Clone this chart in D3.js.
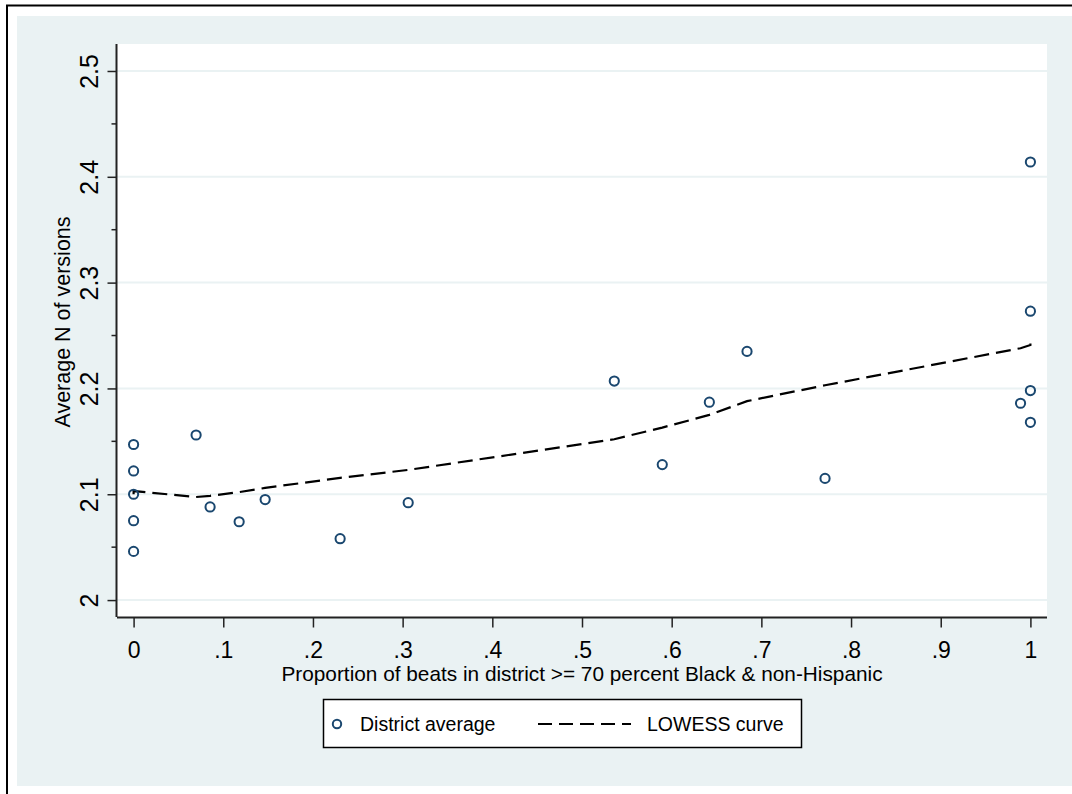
<!DOCTYPE html>
<html>
<head>
<meta charset="utf-8">
<script src="https://cdn.jsdelivr.net/npm/d3@7"></script>
<style>
  body { margin: 0; background: #fff; }
  svg { display: block; font-family: "Liberation Sans", Arial, sans-serif; }
</style>
</head>
<body>
<svg id="chart" width="1072" height="794"></svg>
<script>
// district averages (x = proportion of beats, y = average N of versions)
const pointX = [0, 0, 0, 0, 0, 0.0697, 0.0853, 0.1177, 0.1467, 0.2303, 0.3062,
  0.536, 0.5895, 0.642, 0.684, 0.771, 0.989, 1, 1, 1, 1];
const pointY = [2.147, 2.122, 2.100, 2.075, 2.046, 2.156, 2.088, 2.074, 2.095, 2.058, 2.092,
  2.207, 2.128, 2.187, 2.235, 2.115, 2.186, 2.414, 2.273, 2.198, 2.168];

// lowess curve, sorted by x
const lowessX = [0, 0, 0.0697, 0.0853, 0.1177, 0.1467, 0.2303, 0.3062,
  0.536, 0.5895, 0.642, 0.684, 0.771, 0.989, 1, 1];
const lowessY = [2.100, 2.103, 2.0974, 2.0985, 2.102, 2.106, 2.1155, 2.123,
  2.152, 2.163, 2.175, 2.188, 2.203, 2.238, 2.241, 2.247];

const xTicks = [0, .1, .2, .3, .4, .5, .6, .7, .8, .9, 1];
const yTicks = [2, 2.1, 2.2, 2.3, 2.4, 2.5];
const yMinorTicks = [2.05, 2.15, 2.25, 2.35, 2.45];

const xTitle = "Proportion of beats in district >= 70 percent Black & non-Hispanic";
const yTitle = "Average N of versions";
const legendLabels = ["District average", "LOWESS curve"];

const svg = d3.select("#chart");
const navy = "#1a476f";
const bg = "#eaf2f3";

const plot = { left: 117, right: 1047, top: 44, bottom: 617 };

// outer region
svg.append("rect").attr("x", 17).attr("y", 16).attr("width", 1072).attr("height", 770).attr("fill", bg);
svg.append("rect").attr("x", 7).attr("y", 5.5).attr("width", 1200).attr("height", 1000)
  .attr("fill", "none").attr("stroke", "#000").attr("stroke-width", 2);

// plot region
svg.append("rect").attr("x", plot.left).attr("y", plot.top)
  .attr("width", plot.right - plot.left).attr("height", plot.bottom - plot.top).attr("fill", "#fff");

const x = d3.scaleLinear().domain([-0.0185, 1.0185]).range([plot.left, plot.right]);
const y = d3.scaleLinear().domain([1.984, 2.5255]).range([plot.bottom, plot.top]);

// gridlines
svg.append("g").selectAll("line").data(yTicks).join("line")
  .attr("x1", plot.left).attr("x2", plot.right)
  .attr("y1", d => y(d)).attr("y2", d => y(d))
  .attr("stroke", bg).attr("stroke-width", 2);

// y axis
const yAxis = svg.append("g").attr("transform", `translate(${plot.left - 0.5},0)`)
  .call(d3.axisLeft(y).tickValues(yTicks).tickFormat(d3.format("")).tickSize(9));
yAxis.select(".domain").attr("d", `M0,${plot.top}V${plot.bottom}`).attr("stroke", "#222").attr("stroke-width", 2);
yAxis.selectAll(".tick line").attr("stroke", "#222").attr("stroke-width", 1.5);
yAxis.selectAll(".tick text")
  .attr("font-size", 25).attr("fill", "#000")
  .attr("x", null).attr("y", null).attr("dy", 0)
  .attr("transform", "translate(-19,0) rotate(-90)").attr("text-anchor", "middle");
yAxis.selectAll(".minor").data(yMinorTicks).join("line").attr("class", "minor")
  .attr("x1", -5).attr("x2", 0).attr("y1", d => y(d)).attr("y2", d => y(d))
  .attr("stroke", "#222").attr("stroke-width", 1.5);

// x axis
const xAxis = svg.append("g").attr("transform", `translate(0,${plot.bottom + 0.5})`)
  .call(d3.axisBottom(x).tickValues(xTicks)
    .tickFormat(d => d === 0 ? "0" : d === 1 ? "1" : d3.format(".1f")(d).replace(/^0/, ""))
    .tickSize(10).tickPadding(14));
xAxis.select(".domain").attr("d", `M${plot.left},0H${plot.right}`).attr("stroke", "#222").attr("stroke-width", 2);
xAxis.selectAll(".tick line").attr("stroke", "#222").attr("stroke-width", 1.5);
xAxis.selectAll(".tick text").attr("font-size", 23).attr("fill", "#000");

// axis titles
svg.append("text").attr("x", (plot.left + plot.right) / 2).attr("y", 681)
  .attr("text-anchor", "middle").attr("font-size", 20.8).text(xTitle);
svg.append("text").attr("transform", "translate(70,322) rotate(-90)")
  .attr("text-anchor", "middle").attr("font-size", 21.5).text(yTitle);

// lowess
const line = d3.line().x(d => x(d[0])).y(d => y(d[1]));
svg.append("path").datum(d3.zip(lowessX, lowessY))
  .attr("d", line).attr("fill", "none").attr("stroke", "#000")
  .attr("stroke-width", 2.2).attr("stroke-dasharray", "15,7");

// points
svg.append("g").selectAll("circle").data(d3.zip(pointX, pointY)).join("circle")
  .attr("cx", d => x(d[0])).attr("cy", d => y(d[1])).attr("r", 4.6)
  .attr("fill", "none").attr("stroke", navy).attr("stroke-width", 2);

// legend
const lg = svg.append("g");
lg.append("rect").attr("x", 323.5).attr("y", 699.5).attr("width", 478).attr("height", 48)
  .attr("fill", "#fff").attr("stroke", "#000").attr("stroke-width", 1.5);
lg.append("circle").attr("cx", 337).attr("cy", 724).attr("r", 4.2)
  .attr("fill", "none").attr("stroke", navy).attr("stroke-width", 2);
lg.append("text").attr("x", 360).attr("y", 731).attr("font-size", 19.5).text(legendLabels[0]);
lg.append("line").attr("x1", 538).attr("x2", 631).attr("y1", 724).attr("y2", 724)
  .attr("stroke", "#000").attr("stroke-width", 2.2).attr("stroke-dasharray", "14,7");
lg.append("text").attr("x", 647).attr("y", 731).attr("font-size", 19.5).text(legendLabels[1]);
</script>
</body>
</html>
